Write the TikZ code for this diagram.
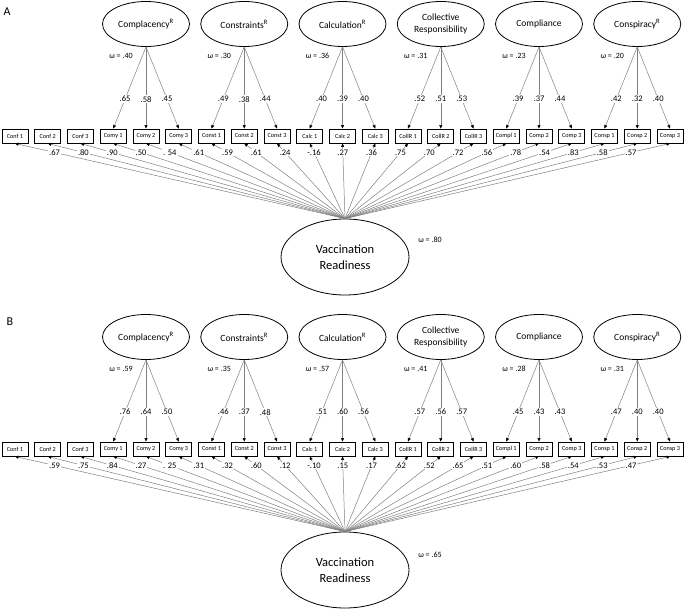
\documentclass[tikz,border=0pt]{standalone}
\usepackage{fontspec}
\setmainfont{Carlito}
\usetikzlibrary{arrows.meta, shapes.geometric}

\begin{document}
\begin{tikzpicture}[x=1pt, y=-1pt,
  factor/.style  = {draw, ellipse, line width=0.8pt, minimum width=87pt,
                    minimum height=45pt, inner sep=0pt, align=center,
                    font=\fontsize{9.5}{11.5}\selectfont},
  general/.style = {draw, ellipse, line width=0.8pt, minimum width=128pt,
                    minimum height=76pt, inner sep=0pt, align=center,
                    font=\fontsize{12.5}{16}\selectfont},
  item/.style    = {draw, line width=0.9pt, minimum width=26pt,
                    minimum height=14pt, inner sep=1pt,
                    font=\fontsize{6.2}{7}\selectfont},
  load/.style    = {draw=black!50, line width=0.5pt,
                    -{Triangle[length=3.5pt, width=3pt, color=black]}},
  coef/.style    = {pos=0.64, fill=white, inner sep=1pt,
                    font=\fontsize{8.5}{9}\selectfont},
  resid/.style   = {pos=0.88, fill=white, inner sep=1pt,
                    font=\fontsize{8.5}{9}\selectfont},
  omega/.style   = {font=\fontsize{8}{9}\selectfont},
  panel/.style   = {font=\fontsize{12}{14}\selectfont},
]
\useasboundingbox (0,0) rectangle (685,609);

%% ---------------- panel A ----------------
\node[panel] (A-tag) at (7,12) {A};

%% indicator boxes
\foreach \txt [count=\i from 0] in {Conf 1, Conf 2, Conf 3, Comy 1, Comy 2,
    Comy 3, Const 1, Const 2, Const 3, Calc 1, Calc 2, Calc 3, CollR 1,
    CollR 2, CollR 3, Compl 1, Comp 2, Comp 3, Consp 1, Consp 2, Consp 3}{
  \node[item] (A-i\i) at ({15+32.75*\i}, 136) {\txt};
}

%% specific factors with their loadings
\foreach \lab/\la/\lb/\lc/\om [count=\k] in {
    Complacency\textsuperscript{R}/.65/.58/.45/.40,
    Constraints\textsuperscript{R}/.49/.38/.44/.30,
    Calculation\textsuperscript{R}/.40/.39/.40/.36,
    Collective\\Responsibility/.52/.51/.53/.31,
    Compliance/.39/.37/.44/.23,
    Conspiracy\textsuperscript{R}/.42/.32/.40/.20}{
  \pgfmathtruncatemacro{\ia}{3*\k}
  \pgfmathtruncatemacro{\ib}{3*\k+1}
  \pgfmathtruncatemacro{\ic}{3*\k+2}
  \node[factor] (A-f\k) at ({15+32.75*\ib}, 24) {\lab};
  \node[omega]  (A-w\k) at ({15+32.75*\ib-25}, 56) {ω = \om};
  \draw[load] (A-f\k.south) -- (A-i\ia.north) node[coef] {\la};
  \draw[load] (A-f\k.south) -- (A-i\ib.north) node[coef] {\lb};
  \draw[load] (A-f\k.south) -- (A-i\ic.north) node[coef] {\lc};
}

%% general factor
\node[general] (A-vr) at (345,257) {Vaccination\\Readiness};
\node[omega]   (A-wg) at (430,240) {ω = .80};
\foreach \v [count=\i from 0] in {.67, .80, .90, .50, . 54, .61, .59, .61,
    .24, -.16, .27, .36, .75, .70, .72, .56, .78, .54, .83, .58, .57}{
  \draw[load] (A-vr.north) -- (A-i\i.south) node[resid] {\v};
}

%% ---------------- panel B ----------------
\begin{scope}[yshift=-313pt]
\node[panel] (B-tag) at (10,9) {B};

%% indicator boxes
\foreach \txt [count=\i from 0] in {Conf 1, Conf 2, Conf 3, Comy 1, Comy 2,
    Comy 3, Const 1, Const 2, Const 3, Calc 1, Calc 2, Calc 3, CollR 1,
    CollR 2, CollR 3, Compl 1, Comp 2, Comp 3, Consp 1, Consp 2, Consp 3}{
  \node[item] (B-i\i) at ({15+32.75*\i}, 136) {\txt};
}

%% specific factors with their loadings
\foreach \lab/\la/\lb/\lc/\om [count=\k] in {
    Complacency\textsuperscript{R}/.76/.64/.50/.59,
    Constraints\textsuperscript{R}/.46/.37/.48/.35,
    Calculation\textsuperscript{R}/.51/.60/.56/.57,
    Collective\\Responsibility/.57/.56/.57/.41,
    Compliance/.45/.43/.43/.28,
    Conspiracy\textsuperscript{R}/.47/.40/.40/.31}{
  \pgfmathtruncatemacro{\ia}{3*\k}
  \pgfmathtruncatemacro{\ib}{3*\k+1}
  \pgfmathtruncatemacro{\ic}{3*\k+2}
  \node[factor] (B-f\k) at ({15+32.75*\ib}, 24) {\lab};
  \node[omega]  (B-w\k) at ({15+32.75*\ib-25}, 56) {ω = \om};
  \draw[load] (B-f\k.south) -- (B-i\ia.north) node[coef] {\la};
  \draw[load] (B-f\k.south) -- (B-i\ib.north) node[coef] {\lb};
  \draw[load] (B-f\k.south) -- (B-i\ic.north) node[coef] {\lc};
}

%% general factor
\node[general] (B-vr) at (345,257) {Vaccination\\Readiness};
\node[omega]   (B-wg) at (430,242) {ω = .65};
\foreach \v [count=\i from 0] in {.59, .75, .84, .27, . 25, .31, .32, .60,
    .12, -.10, .15, .17, .62, .52, .65, .51, .60, .58, .54, .53, .47}{
  \draw[load] (B-vr.north) -- (B-i\i.south) node[resid] {\v};
}
\end{scope}

\end{tikzpicture}
\end{document}
